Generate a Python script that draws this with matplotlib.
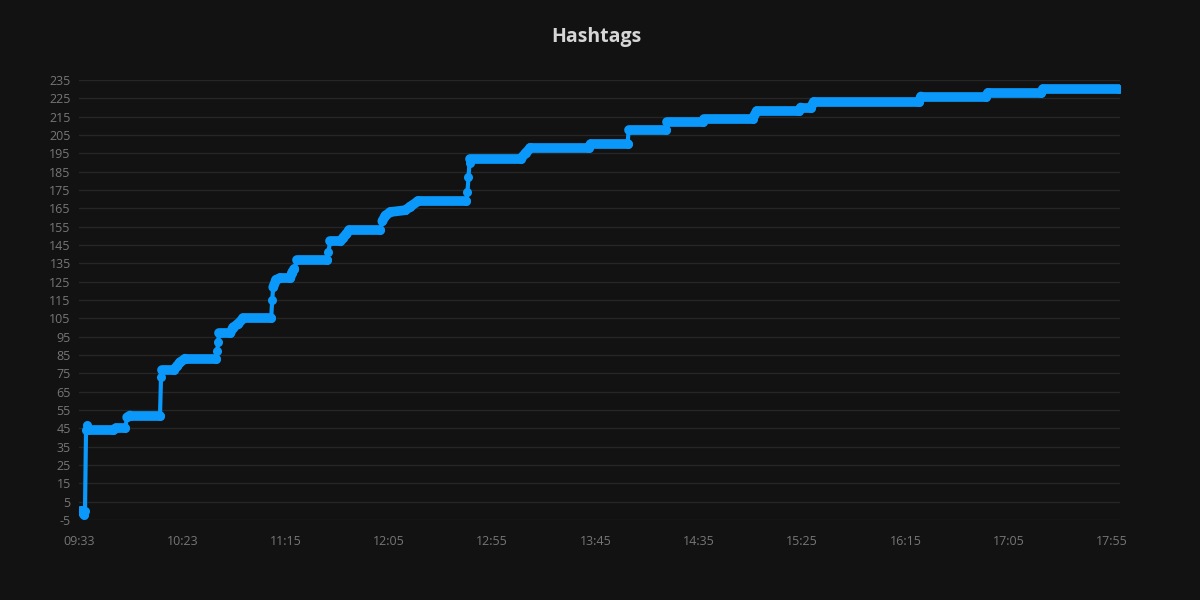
import numpy as np
import matplotlib.pyplot as plt
from matplotlib.collections import LineCollection

# position on the time axis (minutes after 09:33) and count
t_min = [0.5, 1.5, 2.4, 2.9, 3.4, 3.9, 4.4, 16.5, 17.9, 22.3, 23.3, 24.7,
         39.2, 39.7, 40.2, 46.0, 47.5, 48.9, 51.4, 66.4, 66.9, 67.3, 67.8,
         73.2, 74.6, 77.0, 79.5, 93.0, 93.5, 94.0, 95.4, 97.4, 102.2, 103.2,
         104.2, 105.6, 120.2, 120.6, 121.6, 126.5, 127.9, 129.4, 130.8, 145.8,
         146.8, 148.3, 150.7, 158.0, 160.4, 164.2, 187.5, 188.0, 188.5, 189.0,
         189.4, 213.7, 216.1, 218.5, 246.6, 247.6, 265.5, 266.0, 283.9, 284.4,
         301.8, 302.3, 326.1, 328.0, 348.4, 349.3, 354.2, 355.6, 406.5, 407.5,
         439.0, 440.0, 465.6, 466.6, 503.3]
hashtags = [0, 0, -2, 0, 44, 47, 44, 44, 45, 45, 51, 52,
            52, 73, 77, 77, 79, 81, 83, 83, 87, 92, 97,
            97, 100, 102, 105, 105, 115, 122, 126, 127, 127, 130,
            132, 137, 137, 141, 147, 147, 149, 151, 153, 153,
            158, 161, 163, 164, 166, 169, 169, 174, 182, 190,
            192, 192, 195, 198, 198, 200, 200, 208, 208, 212,
            212, 214, 214, 218, 218, 220, 220, 223, 223, 226,
            226, 228, 228, 230, 230]

x_labels = ['09:33', '10:23', '11:15', '12:05', '12:55', '13:45',
            '14:35', '15:25', '16:15', '17:05', '17:55']
y_ticks = list(range(-5, 236, 10))

BG = '#121212'
BLUE = '#0a98fa'
plt.rcParams['font.family'] = ['Open Sans', 'DejaVu Sans']
plt.rcParams['axes.unicode_minus'] = False

fig = plt.figure(figsize=(12, 6), dpi=100, facecolor=BG)
ax = fig.add_axes([79 / 1200, 80 / 600, 1041 / 1200, 440 / 600])
ax.set_facecolor(BG)

x = np.array(t_min)
y = np.array(hashtags, dtype=float)

# thin line on the jumps, thick where the count moves slowly
pts = np.column_stack([x, y])
segs = np.stack([pts[:-1], pts[1:]], axis=1)
steep = np.abs(np.diff(y)) > 3 * np.abs(np.diff(x))
widths = np.where(steep, 3.0, 7.0)
lc = LineCollection(segs, linewidths=widths, colors=BLUE,
                    capstyle='round', joinstyle='round', zorder=3)
ax.add_collection(lc)
ax.plot(x, y, 'o', ms=6.5, color=BLUE, mew=0, zorder=4)

ax.set_xlim(0, 503.8)
ax.set_ylim(-5, 235)
ax.set_xticks([i * 50 for i in range(len(x_labels))])
ax.set_xticklabels(x_labels)
ax.set_yticks(y_ticks)
ax.tick_params(length=0, labelsize=9, colors='#767676')
ax.tick_params(axis='x', pad=11)
ax.tick_params(axis='y', pad=6)
ax.grid(axis='y', color='#262626', lw=1)
ax.set_axisbelow(True)
for s in ax.spines.values():
    s.set_visible(False)

fig.text(0.497, 0.938, 'Hashtags', ha='center', va='center',
         fontsize=14, fontweight='bold', color='#d6d6d6')

fig.savefig('out.png', dpi=100, facecolor=BG)
